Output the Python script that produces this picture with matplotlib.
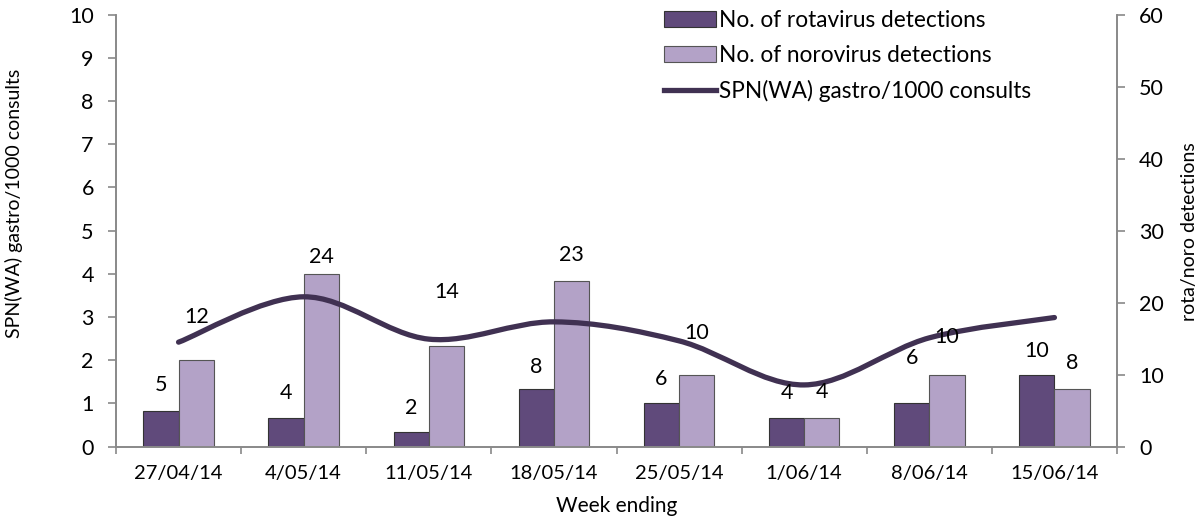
import numpy as np
import matplotlib
matplotlib.use("Agg")
import matplotlib.pyplot as plt
from matplotlib.path import Path
from matplotlib.patches import PathPatch, Patch
from matplotlib.lines import Line2D

plt.rcParams['font.family'] = ['Lato', 'DejaVu Sans']

weeks = ['27/04/14', '4/05/14', '11/05/14', '18/05/14', '25/05/14', '1/06/14', '8/06/14', '15/06/14']
rota = [5, 4, 2, 8, 6, 4, 6, 10]
noro = [12, 24, 14, 23, 10, 4, 10, 8]
spn_rate = [2.42, 3.47, 2.49, 2.89, 2.45, 1.43, 2.52, 2.99]

# where Excel put the data labels (pixels above the bar top)
rota_lbl_dy = [26, 25, 24, 22, 24, 25, 45, 24]
noro_lbl_dy = [43, 17, 54, 26, 42, 26, 38, 26]

DARK = '#604a7b'
LIGHT = '#b3a2c7'
LINE = '#403152'
AXIS = '#898989'


def smooth_path(xs, ys):
    # excel style smoothed line, bezier segments through the points
    pts = np.column_stack([xs, ys]).astype(float)
    n = len(pts)
    verts = [pts[0]]
    codes = [Path.MOVETO]
    for i in range(n - 1):
        p0 = pts[max(i - 1, 0)]
        p1 = pts[i]
        p2 = pts[i + 1]
        p3 = pts[min(i + 2, n - 1)]
        verts += [p1 + (p2 - p0) / 6, p2 - (p3 - p1) / 6, p2]
        codes += [Path.CURVE4] * 3
    return Path(verts, codes)


fig = plt.figure(figsize=(12.01, 5.19), dpi=100)
ax = fig.add_axes([116 / 1201, 1 - 446.7 / 519, 1001 / 1201, 432 / 519])
ax2 = ax.twinx()
ax.set_zorder(ax2.get_zorder() + 1)
ax.patch.set_visible(False)

x = np.arange(len(weeks))
w = 0.282
ax2.bar(x - w / 2, rota, w, color=DARK, edgecolor='#333333', linewidth=0.8)
ax2.bar(x + w / 2, noro, w, color=LIGHT, edgecolor='#555555', linewidth=0.8)

ax.add_patch(PathPatch(smooth_path(x, spn_rate), fill=False, edgecolor=LINE,
                       lw=3.8, capstyle='round', joinstyle='round'))

for i in range(len(weeks)):
    ax.annotate(str(rota[i]), xy=(x[i] - w / 2, rota[i]), xycoords=ax2.transData,
                xytext=(0, rota_lbl_dy[i]), textcoords='offset pixels',
                ha='center', va='center', fontsize=15.5, zorder=5)
    ax.annotate(str(noro[i]), xy=(x[i] + w / 2, noro[i]), xycoords=ax2.transData,
                xytext=(0, noro_lbl_dy[i]), textcoords='offset pixels',
                ha='center', va='center', fontsize=15.5, zorder=5)

ax.set_xlim(-0.5, len(weeks) - 0.5)
ax.set_ylim(0, 10)
ax2.set_ylim(0, 60)
ax.set_yticks(range(0, 11))
ax2.set_yticks(range(0, 61, 10))

ax.set_xticks(np.arange(len(weeks) + 1) - 0.5)
ax.set_xticklabels([])
ax.set_xticks(x, minor=True)
ax.set_xticklabels(weeks, minor=True)
ax.tick_params(axis='x', which='major', length=5, width=1.2, color=AXIS, direction='out')
ax.tick_params(axis='x', which='minor', length=0, pad=13, labelsize=14.5)
ax.tick_params(axis='y', length=6, width=1.2, color=AXIS, pad=10, labelsize=15.5)
ax2.tick_params(axis='y', length=6, width=1.2, color=AXIS, pad=10, labelsize=15.5)

for a in (ax, ax2):
    a.spines['top'].set_visible(False)
    for s in ('left', 'right', 'bottom'):
        a.spines[s].set_color(AXIS)
        a.spines[s].set_linewidth(1.2)

ax.set_ylabel('SPN(WA) gastro/1000 consults', fontsize=14)
ax.yaxis.set_label_coords(-0.093, 0.564)
ax2.set_ylabel('rota/noro detections', fontsize=14)
ax2.yaxis.set_label_coords(1.064, 0.497)
ax.set_xlabel('Week ending', fontsize=15)
ax.xaxis.set_label_coords(0.5, -0.114)

handles = [Patch(facecolor=DARK, edgecolor='#333333', lw=0.8),
           Patch(facecolor=LIGHT, edgecolor='#555555', lw=0.8),
           Line2D([], [], color=LINE, lw=3.8)]
labels = ['No. of rotavirus detections', 'No. of norovirus detections',
          'SPN(WA) gastro/1000 consults']
ax.legend(handles, labels, loc='upper left', bbox_to_anchor=(664 / 1201, 1 - 10 / 519),
          bbox_transform=fig.transFigure, frameon=False, fontsize=16.3,
          handlelength=2.3, handleheight=0.7, handletextpad=0.15,
          labelspacing=0.62, borderpad=0, borderaxespad=0)

fig.savefig('out.png', dpi=100)
